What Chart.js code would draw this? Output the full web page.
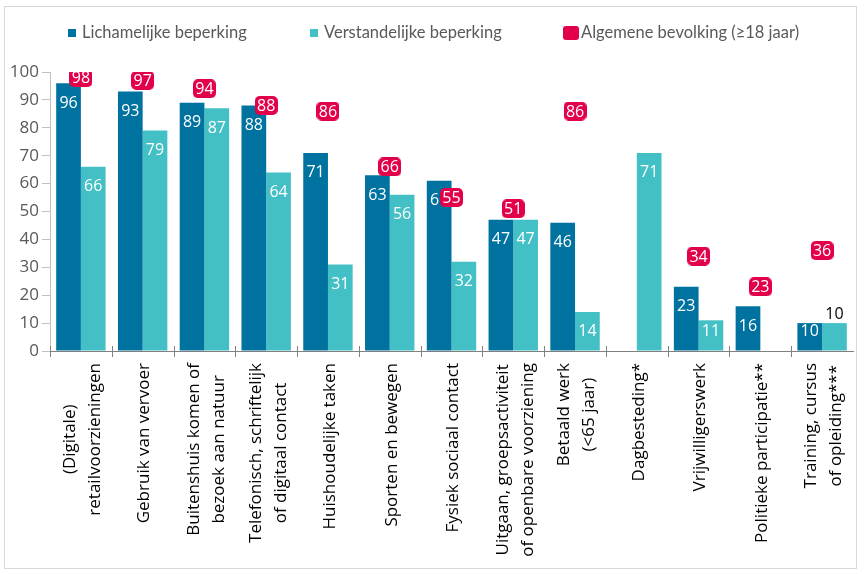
<!DOCTYPE html>
<html>
<head>
<meta charset="utf-8">
<script src="https://cdn.jsdelivr.net/npm/chart.js@4.4.1/dist/chart.umd.min.js"></script>
<style>
  html, body { margin: 0; padding: 0; background: #fff; }
  #wrap { position: relative; width: 864px; height: 574px; }
</style>
</head>
<body>
<div id="wrap"><canvas id="myChart"></canvas></div>
<script>
// categorieen (x-as), elke regel een eigen element
const categories = [
    ['(Digitale)', 'retailvoorzieningen'],
    ['Gebruik van vervoer'],
    ['Buitenshuis komen of', 'bezoek aan natuur'],
    ['Telefonisch, schriftelijk', 'of digitaal contact'],
    ['Huishoudelijke taken'],
    ['Sporten en bewegen'],
    ['Fysiek sociaal contact'],
    ['Uitgaan, groepsactiviteit', 'of openbare voorziening'],
    ['Betaald werk', '(<65 jaar)'],
    ['Dagbesteding*'],
    ['Vrijwilligerswerk'],
    ['Politieke participatie**'],
    ['Training, cursus', 'of opleiding***']
];
const seriesNames = ['Lichamelijke beperking', 'Verstandelijke beperking', 'Algemene bevolking (\u226518 jaar)'];
const lichamelijk = [96, 93, 89, 88, 71, 63, 61, 47, 46, null, 23, 16, 10];
const verstandelijk = [66, 79, 87, 64, 31, 56, 32, 47, 14, 71, 11, null, 10];
const algemeen = [98, 97, 94, 88, 86, 66, 55, 51, 86, null, 34, 23, 36];
const yMin = 0, yMax = 100, yStep = 10;

const colLich = '#0072A0';
const colVerst = '#43BFC6';
const colAlg = '#E2004A';

// rode marker als plaatje (afgeronde rechthoek)
const marker = document.createElement('canvas');
marker.width = 23;
marker.height = 19;
const mctx = marker.getContext('2d');
mctx.fillStyle = colAlg;
mctx.beginPath();
mctx.roundRect(0, 0, 23, 19, 5);
mctx.fill();

// waardes in/boven de balken en in de markers
const valueLabels = {
    id: 'valueLabels',
    afterDatasetDraw(chart, args) {
        const ctx = chart.ctx;
        const ds = chart.data.datasets[args.index];
        ctx.save();
        ctx.font = '16px "Open Sans"';
        ctx.textAlign = 'center';
        ctx.textBaseline = 'middle';
        args.meta.data.forEach((el, i) => {
            const v = ds.data[i];
            if (v == null) return;
            if (ds.type === 'line') {
                ctx.fillStyle = '#fff';
                ctx.fillText(v, el.x, el.y + 1);
            } else {
                const h = el.base - el.y;
                if (args.index === 1 && h < 30) {
                    ctx.fillStyle = '#000';
                    ctx.fillText(v, el.x, el.y - 9);
                } else {
                    ctx.fillStyle = '#fff';
                    ctx.fillText(v, el.x, Math.min(el.y + 20, el.base - 19));
                }
            }
        });
        ctx.restore();
    }
};

// x-as labels (gedraaid, regels gecentreerd), streepjes, legenda en kader
const extras = {
    id: 'extras',
    afterDraw(chart) {
        const ctx = chart.ctx;
        const area = chart.chartArea;
        const x = chart.scales.x;
        const step = (area.right - area.left) / categories.length;
        ctx.save();

        ctx.strokeStyle = '#808080';
        ctx.lineWidth = 1;
        for (let i = 0; i < categories.length; i++) {
            const px = Math.round(x.getPixelForValue(i) - step / 2) + 0.5;
            ctx.beginPath();
            ctx.moveTo(px, area.bottom - 5);
            ctx.lineTo(px, area.bottom + 6);
            ctx.stroke();
        }

        ctx.font = '17px "Open Sans"';
        ctx.fillStyle = '#000';
        ctx.textAlign = 'center';
        ctx.textBaseline = 'middle';
        const lineH = 25;
        categories.forEach((lines, i) => {
            const cx = x.getPixelForValue(i) + 2;
            const maxW = Math.max(...lines.map(l => ctx.measureText(l).width));
            ctx.save();
            ctx.translate(cx, area.bottom + 12 + maxW / 2);
            ctx.rotate(-Math.PI / 2);
            lines.forEach((l, j) => {
                ctx.fillText(l, 0, (j - (lines.length - 1) / 2) * lineH);
            });
            ctx.restore();
        });

        // legenda
        ctx.font = '16.5px Lato';
        ctx.textAlign = 'left';
        ctx.fillStyle = colLich;
        ctx.fillRect(68, 29, 8, 8);
        ctx.fillStyle = colVerst;
        ctx.fillRect(310, 29, 8, 8);
        ctx.fillStyle = colAlg;
        ctx.beginPath();
        ctx.roundRect(563, 26, 16, 14, 3);
        ctx.fill();
        ctx.fillStyle = '#595959';
        ctx.fillText(seriesNames[0], 82, 33);
        ctx.fillText(seriesNames[1], 324, 33);
        ctx.fillText(seriesNames[2], 581, 33);

        // kader
        ctx.strokeStyle = '#D9D9D9';
        ctx.strokeRect(4.5, 6.5, 852, 562);
        ctx.restore();
    }
};

const data = {
    labels: categories.map(c => c.join(' ')),
    datasets: [
        {
            label: seriesNames[0],
            data: lichamelijk,
            backgroundColor: colLich,
            categoryPercentage: 0.8,
            barPercentage: 1,
            order: 1
        },
        {
            label: seriesNames[1],
            data: verstandelijk,
            backgroundColor: colVerst,
            categoryPercentage: 0.8,
            barPercentage: 1,
            order: 1
        },
        {
            type: 'line',
            label: seriesNames[2],
            data: algemeen,
            showLine: false,
            pointStyle: marker,
            pointRadius: 10,
            order: 0
        }
    ]
};

const config = {
    type: 'bar',
    data: data,
    options: {
        responsive: true,
        maintainAspectRatio: false,
        animation: false,
        layout: { padding: { top: 72, right: 9, left: 0, bottom: 0 } },
        plugins: {
            legend: { display: false },
            tooltip: { enabled: false }
        },
        scales: {
            x: {
                ticks: { display: false },
                grid: { display: false },
                border: { display: true, color: '#808080', width: 1 },
                afterFit: s => { s.height = 223; }
            },
            y: {
                min: yMin,
                max: yMax,
                ticks: {
                    stepSize: yStep,
                    padding: 3,
                    color: '#595959',
                    font: { family: 'Open Sans', size: 17 }
                },
                grid: {
                    drawOnChartArea: false,
                    drawTicks: true,
                    tickLength: 8,
                    color: '#BFBFBF'
                },
                border: { display: true, color: '#BFBFBF', width: 1 },
                afterFit: s => { s.width = 50; }
            }
        }
    },
    plugins: [valueLabels, extras]
};

const myChart = new Chart(document.getElementById('myChart'), config);
</script>
</body>
</html>
